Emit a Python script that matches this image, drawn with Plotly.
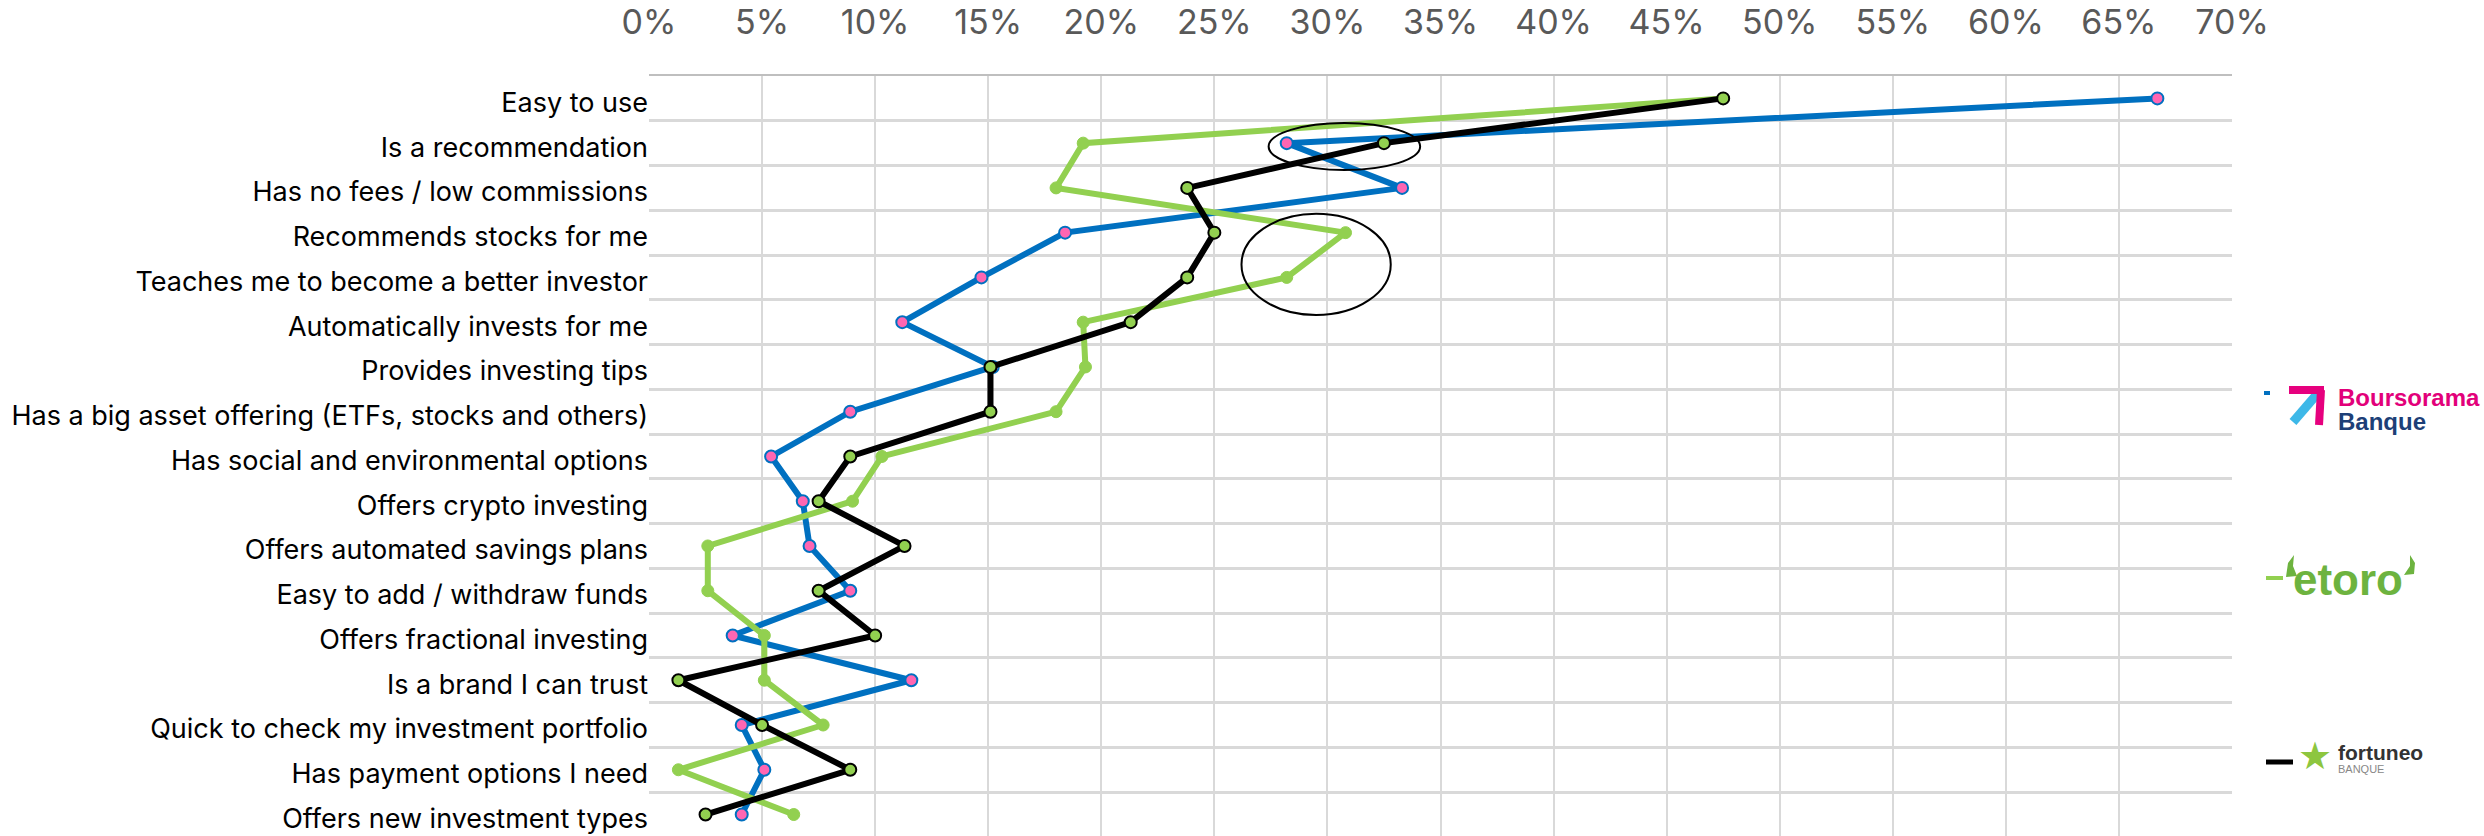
import plotly.graph_objects as go

categories = [
    "Easy to use", "Is a recommendation", "Has no fees / low commissions",
    "Recommends stocks for me", "Teaches me to become a better investor",
    "Automatically invests for me", "Provides investing tips",
    "Has a big asset offering (ETFs, stocks and others)",
    "Has social and environmental options", "Offers crypto investing",
    "Offers automated savings plans", "Easy to add / withdraw funds",
    "Offers fractional investing", "Is a brand I can trust",
    "Quick to check my investment portfolio", "Has payment options I need",
    "Offers new investment types",
]
boursorama = [66.7, 28.2, 33.3, 18.4, 14.7, 11.2, 15.2, 8.9, 5.4, 6.8, 7.1, 8.9, 3.7, 11.6, 4.1, 5.1, 4.1]
etoro      = [47.5, 19.2, 18.0, 30.8, 28.2, 19.2, 19.3, 18.0, 10.3, 9.0, 2.6, 2.6, 5.1, 5.1, 7.7, 1.3, 6.4]
fortuneo   = [47.5, 32.5, 23.8, 25.0, 23.8, 21.3, 15.1, 15.1, 8.9, 7.5, 11.3, 7.5, 10.0, 1.3, 5.0, 8.9, 2.5]
x_ticks = list(range(0, 75, 5))

W, H = 2484, 836
L, R, T, B = 649, 252, 76, 0

def px(x):
    return (x - L) / (W - L - R)

def py(y):
    return (H - B - y) / (H - T - B)

def path(points):
    return "M " + " L ".join(f"{px(x):.5f},{py(y):.5f}" for x, y in points) + " Z"

BLUE = "#0070C0"
GREEN = "#92D050"
PINK = "#FF66B2"
ETORO_GREEN = "#6DB33F"
FONT = "Inter, Liberation Sans, Arial"

fig = go.Figure()
fig.add_trace(go.Scatter(
    x=boursorama, y=categories, mode="lines+markers", name="Boursorama Banque",
    line=dict(color=BLUE, width=6),
    marker=dict(size=12, color=PINK, line=dict(color=BLUE, width=2)),
))
fig.add_trace(go.Scatter(
    x=etoro, y=categories, mode="lines+markers", name="eToro",
    line=dict(color=GREEN, width=6),
    marker=dict(size=12, color=GREEN, line=dict(color=GREEN, width=1)),
))
fig.add_trace(go.Scatter(
    x=fortuneo, y=categories, mode="lines+markers", name="Fortuneo Banque",
    line=dict(color="#000000", width=6),
    marker=dict(size=12, color=GREEN, line=dict(color="#000000", width=2)),
))

shapes = [
    dict(type="circle", xref="x", yref="y", x0=27.4, x1=34.1, y0=0.55, y1=1.60,
         line=dict(color="#000000", width=2)),
    dict(type="circle", xref="x", yref="y", x0=26.2, x1=32.8, y0=2.58, y1=4.84,
         line=dict(color="#000000", width=2)),
    # legend keys
    dict(type="line", xref="paper", yref="paper", x0=px(2264), x1=px(2270), y0=py(393), y1=py(393),
         line=dict(color=BLUE, width=4)),
    dict(type="line", xref="paper", yref="paper", x0=px(2266), x1=px(2283), y0=py(578), y1=py(578),
         line=dict(color=GREEN, width=4)),
    dict(type="line", xref="paper", yref="paper", x0=px(2266), x1=px(2293), y0=py(762), y1=py(762),
         line=dict(color="#000000", width=5)),
    # Boursorama icon (approximation)
    dict(type="line", xref="paper", yref="paper", x0=px(2293), x1=px(2318), y0=py(422), y1=py(393),
         line=dict(color="#3DB8E8", width=9)),
    dict(type="line", xref="paper", yref="paper", x0=px(2289), x1=px(2324), y0=py(390), y1=py(390),
         line=dict(color="#E6007E", width=8)),
    dict(type="line", xref="paper", yref="paper", x0=px(2321), x1=px(2319), y0=py(390), y1=py(425),
         line=dict(color="#E6007E", width=8)),
    # eToro horns (approximation)
    dict(type="path", xref="paper", yref="paper", line=dict(width=0), fillcolor=ETORO_GREEN,
         path=path([(2286, 577), (2288, 563), (2294, 555), (2293, 566), (2297, 576)])),
    dict(type="path", xref="paper", yref="paper", line=dict(width=0), fillcolor=ETORO_GREEN,
         path=path([(2404, 575), (2410, 566), (2410, 555), (2415, 563), (2414, 574)])),
]

annotations = [
    dict(x=px(2336), y=py(397), xref="paper", yref="paper", xanchor="left", yanchor="middle",
         text="<b>Boursorama</b>", showarrow=False,
         font=dict(family="Liberation Sans, Arial", size=24, color="#E2007A")),
    dict(x=px(2336), y=py(421), xref="paper", yref="paper", xanchor="left", yanchor="middle",
         text="<b>Banque</b>", showarrow=False,
         font=dict(family="Liberation Sans, Arial", size=24, color="#1D3F77")),
    dict(x=px(2405), y=py(579), xref="paper", yref="paper", xanchor="right", yanchor="middle",
         text="<b>etoro</b>", showarrow=False,
         font=dict(family="Liberation Sans, Arial", size=44, color=ETORO_GREEN)),
    dict(x=px(2315), y=py(756), xref="paper", yref="paper", xanchor="center", yanchor="middle",
         text="★", showarrow=False,
         font=dict(family="DejaVu Sans", size=38, color="#8DC63F")),
    dict(x=px(2336), y=py(752), xref="paper", yref="paper", xanchor="left", yanchor="middle",
         text="<b>fortuneo</b>", showarrow=False,
         font=dict(family="Liberation Sans, Arial", size=21, color="#333333")),
    dict(x=px(2336), y=py(769), xref="paper", yref="paper", xanchor="left", yanchor="middle",
         text="BANQUE", showarrow=False,
         font=dict(family="Liberation Sans, Arial", size=11, color="#888888")),
]

fig.update_layout(
    width=W, height=H,
    margin=dict(l=L, r=R, t=T, b=B, pad=0),
    paper_bgcolor="white", plot_bgcolor="white",
    showlegend=False,
    shapes=shapes, annotations=annotations,
    font=dict(family=FONT, color="#000000"),
    xaxis=dict(
        side="top", range=[0, 70], tickvals=x_ticks,
        ticktext=[f"{v}%" for v in x_ticks],
        showgrid=True, gridcolor="#D9D9D9", gridwidth=1.5, zeroline=False,
        showline=True, linecolor="#BFBFBF", linewidth=2,
        ticks="outside", ticklen=26, tickcolor="rgba(0,0,0,0)",
        tickfont=dict(family=FONT, size=34, color="#595959"),
    ),
    yaxis=dict(
        type="category", categoryorder="array", categoryarray=categories,
        range=[16.48, -0.5], tickson="boundaries",
        showgrid=True, gridcolor="#D9D9D9", gridwidth=2.5, zeroline=False,
        showline=False, ticks="", ticklabelshift=-4,
        tickfont=dict(family=FONT, size=27, color="#000000"),
    ),
)

fig.write_html("out.html")
